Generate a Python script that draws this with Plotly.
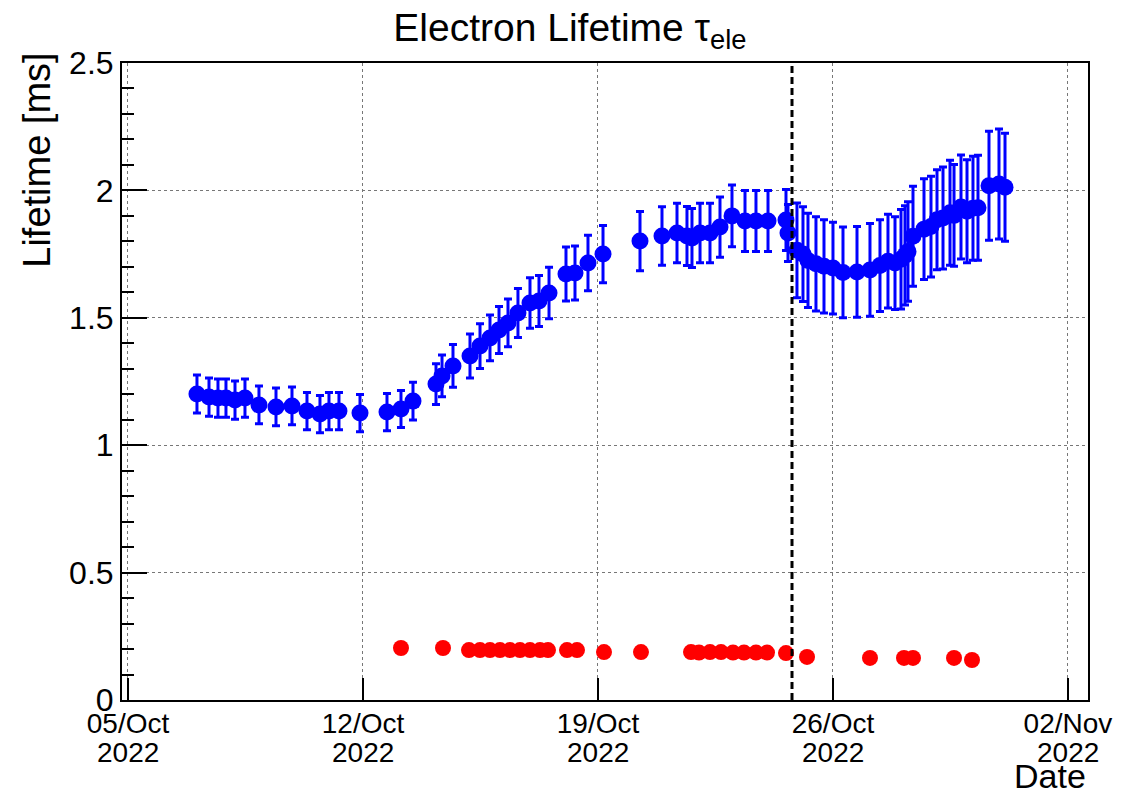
import plotly.graph_objects as go
import pandas as pd

# Blue series: electron lifetime (ms) with errors
blue_dates = [
    "2022-10-07 01:19", "2022-10-07 09:55", "2022-10-07 16:20", "2022-10-07 22:03",
    "2022-10-08 04:30", "2022-10-08 11:38", "2022-10-08 21:39", "2022-10-09 09:49",
    "2022-10-09 21:15", "2022-10-10 07:58", "2022-10-10 17:15", "2022-10-10 23:41",
    "2022-10-11 06:50", "2022-10-11 21:52", "2022-10-12 17:10", "2022-10-13 03:10",
    "2022-10-13 11:45", "2022-10-14 04:12", "2022-10-14 08:30", "2022-10-14 16:21",
    "2022-10-15 04:30", "2022-10-15 11:40", "2022-10-15 18:48", "2022-10-16 01:15",
    "2022-10-16 07:40", "2022-10-16 14:48", "2022-10-16 23:24", "2022-10-17 05:50",
    "2022-10-17 13:00", "2022-10-18 01:08", "2022-10-18 07:34", "2022-10-18 16:52",
    "2022-10-19 03:36", "2022-10-20 06:03", "2022-10-20 21:46", "2022-10-21 08:30",
    "2022-10-21 15:38", "2022-10-21 19:12", "2022-10-22 00:58", "2022-10-22 08:05",
    "2022-10-22 15:14", "2022-10-22 23:49", "2022-10-23 09:07", "2022-10-23 16:58",
    "2022-10-24 01:34", "2022-10-24 14:25", "2022-10-24 15:51",
    "2022-10-24 22:16", "2022-10-25 02:34", "2022-10-25 06:09", "2022-10-25 11:51",
    "2022-10-25 17:35", "2022-10-26 00:01", "2022-10-26 07:10", "2022-10-26 17:11",
    "2022-10-27 02:28", "2022-10-27 09:37", "2022-10-27 15:20", "2022-10-27 20:21",
    "2022-10-28 00:39", "2022-10-28 03:30", "2022-10-28 05:38", "2022-10-28 09:13",
    "2022-10-28 17:05", "2022-10-28 22:05", "2022-10-29 02:23", "2022-10-29 06:40",
    "2022-10-29 11:41", "2022-10-29 14:33", "2022-10-29 19:32", "2022-10-29 23:50",
    "2022-10-30 04:06", "2022-10-30 07:41", "2022-10-30 15:33", "2022-10-30 22:42",
    "2022-10-31 03:00",
]
blue_values = [
    1.201, 1.189, 1.185, 1.185, 1.177, 1.185, 1.158, 1.150,
    1.154, 1.134, 1.122, 1.134, 1.134, 1.126, 1.130, 1.142,
    1.173, 1.240, 1.272, 1.311, 1.350, 1.389, 1.421, 1.452,
    1.480, 1.519, 1.558, 1.566, 1.597, 1.672, 1.676, 1.715,
    1.750, 1.801, 1.821, 1.833, 1.821, 1.813, 1.833, 1.833,
    1.856, 1.900, 1.880, 1.880, 1.880, 1.884, 1.833,
    1.765, 1.750, 1.725, 1.712, 1.702, 1.695, 1.678, 1.680,
    1.688, 1.705, 1.722, 1.715, 1.730, 1.745, 1.760, 1.820,
    1.848, 1.858, 1.885, 1.892, 1.912, 1.902, 1.935, 1.918,
    1.930, 1.932, 2.018, 2.025, 2.012,
]
blue_errors = [
    0.075, 0.075, 0.075, 0.075, 0.075, 0.075, 0.074, 0.074,
    0.074, 0.073, 0.073, 0.073, 0.073, 0.073, 0.073, 0.073,
    0.074, 0.080, 0.082, 0.084, 0.086, 0.088, 0.090, 0.092,
    0.094, 0.096, 0.099, 0.100, 0.101, 0.106, 0.106, 0.109,
    0.112, 0.116, 0.115, 0.117, 0.116, 0.116, 0.117, 0.117,
    0.118, 0.121, 0.120, 0.120, 0.120, 0.120, 0.112,
    0.186, 0.186, 0.185, 0.185, 0.183, 0.180, 0.178, 0.178,
    0.182, 0.180, 0.184, 0.182, 0.195, 0.195, 0.195, 0.196,
    0.198, 0.198, 0.196, 0.200, 0.206, 0.200, 0.204, 0.202,
    0.204, 0.206, 0.214, 0.216, 0.212,
]

# Red series
red_dates = [
    "2022-10-13 03:10", "2022-10-14 09:12", "2022-10-15 03:47", "2022-10-15 11:40",
    "2022-10-15 18:48", "2022-10-16 01:57", "2022-10-16 09:06", "2022-10-16 16:15",
    "2022-10-16 23:24", "2022-10-17 06:33", "2022-10-17 12:16", "2022-10-18 01:51",
    "2022-10-18 09:00", "2022-10-19 04:18", "2022-10-20 06:45", "2022-10-21 18:30",
    "2022-10-22 00:13", "2022-10-22 08:05", "2022-10-22 15:58", "2022-10-23 00:32",
    "2022-10-23 08:24", "2022-10-23 16:58", "2022-10-24 00:50", "2022-10-24 14:25",
    "2022-10-25 05:27", "2022-10-27 02:28", "2022-10-28 02:47", "2022-10-28 09:13",
    "2022-10-29 14:33", "2022-10-30 03:24",
]
red_values = [
    0.204, 0.204, 0.196, 0.196, 0.196, 0.196, 0.196, 0.196,
    0.196, 0.196, 0.196, 0.196, 0.196, 0.188, 0.188, 0.188,
    0.186, 0.188, 0.188, 0.186, 0.186, 0.186, 0.186, 0.184,
    0.169, 0.165, 0.165, 0.165, 0.165, 0.157,
]

marker_date = "2022-10-24 18:43"
tick_dates = ["2022-10-05", "2022-10-12", "2022-10-19", "2022-10-26", "2022-11-02"]
tick_day_labels = ["05/Oct", "12/Oct", "19/Oct", "26/Oct", "02/Nov"]
tick_year_labels = ["2022", "2022", "2022", "2022", "2022"]
x_range = ["2022-10-04 19:43", "2022-11-02 14:20"]
y_range = [0, 2.5]
y_ticks = [0, 0.5, 1, 1.5, 2, 2.5]
y_tick_labels = ["0", "0.5", "1", "1.5", "2", "2.5"]

FONT = "Liberation Sans, Arial, Helvetica, sans-serif"

fig = go.Figure()
fig.add_trace(go.Scatter(
    x=pd.to_datetime(blue_dates), y=blue_values, mode="markers",
    marker=dict(color="#0000ff", size=17),
    error_y=dict(type="data", array=blue_errors, color="#0000ff", thickness=3, width=4),
    showlegend=False,
))
fig.add_trace(go.Scatter(
    x=pd.to_datetime(red_dates), y=red_values, mode="markers",
    marker=dict(color="#ff0000", size=16),
    showlegend=False,
))
fig.add_shape(type="line", xref="x", yref="y",
              x0=marker_date, x1=marker_date, y0=y_range[0], y1=y_range[1],
              line=dict(color="black", width=3, dash="7px,4px"))

fig.update_layout(
    width=1133, height=791,
    margin=dict(l=122, r=45, t=63, b=91, autoexpand=False),
    paper_bgcolor="white", plot_bgcolor="white",
    font=dict(family=FONT, color="black"),
    title=dict(text="Electron Lifetime τ<sub>ele</sub>", x=0.503, xref="container",
               y=0.966, yref="container", xanchor="center", yanchor="middle",
               automargin=False,
               font=dict(size=39, family=FONT)),
)
fig.update_xaxes(
    type="date", range=x_range, automargin=False,
    tickvals=tick_dates, ticktext=tick_day_labels,
    ticks="inside", ticklen=22, tickwidth=1.5, tickcolor="black",
    tickfont=dict(size=28, family=FONT), ticklabelstandoff=-3,
    showline=True, linecolor="black", linewidth=2, mirror=True,
    showgrid=True, gridcolor="#777777", griddash="dot", gridwidth=1,
    zeroline=False,
)
fig.update_yaxes(
    range=y_range, tickvals=y_ticks, ticktext=y_tick_labels, automargin=False,
    ticks="inside", ticklen=25, tickwidth=1.5, tickcolor="black",
    minor=dict(dtick=0.1, ticks="inside", ticklen=12, tickcolor="black", showgrid=False),
    tickfont=dict(size=32, family=FONT),
    showline=True, linecolor="black", linewidth=2, mirror=True,
    showgrid=True, gridcolor="#777777", griddash="dot", gridwidth=1,
    zeroline=False,
)
for d, yr in zip(tick_dates, tick_year_labels):
    fig.add_annotation(text=yr, xref="x", yref="paper", x=d, y=-0.082,
                       xanchor="center", yanchor="middle", showarrow=False,
                       font=dict(size=28, family=FONT))
fig.add_annotation(text="Lifetime [ms]", textangle=-90, xref="paper", yref="paper",
                   x=-0.088, y=1.02, xanchor="center", yanchor="top", showarrow=False,
                   font=dict(size=38, family=FONT))
fig.add_annotation(text="Date", xref="paper", yref="paper", x=1.0, y=-0.119,
                   xanchor="right", yanchor="middle", showarrow=False,
                   font=dict(size=34, family=FONT))

fig.write_html("out.html", config={"displayModeBar": False},
               post_script="document.body.style.margin='0px';")
